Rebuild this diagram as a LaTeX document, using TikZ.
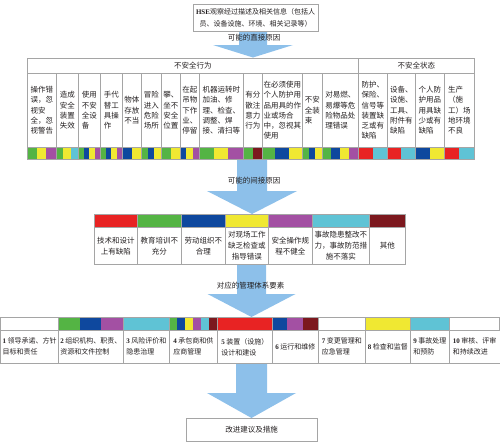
\documentclass[tikz,border=0pt]{standalone}
\usepackage{fontspec}
\setmainfont{Noto Sans CJK SC}
\newfontfamily\lat{Liberation Serif}
\usetikzlibrary{calc}
\definecolor{cgreen}{RGB}{84,180,68}
\definecolor{cyellow}{RGB}{240,232,50}
\definecolor{cpurple}{RGB}{163,80,163}
\definecolor{ccyan}{RGB}{95,195,213}
\definecolor{cblue}{RGB}{14,72,158}
\definecolor{cred}{RGB}{232,35,35}
\definecolor{cdarkred}{RGB}{124,24,30}
\definecolor{arrowblue}{RGB}{141,192,234}
\definecolor{cgrid}{RGB}{165,165,165}
\definecolor{ctext}{RGB}{35,31,32}
\tikzset{
  grid/.style={draw=cgrid, line width=0.6pt},
  cellA/.style={grid, anchor=north west, inner sep=1pt, align=left, minimum height=74pt,
    font=\fontsize{7.5}{10.2}\selectfont, text=ctext},
  cellB/.style={grid, anchor=north west, inner sep=1pt, align=center, minimum height=37pt,
    font=\fontsize{7.5}{11}\selectfont, text=ctext},
  cellC/.style={grid, anchor=north west, inner sep=1pt, align=left, minimum height=33pt,
    font=\fontsize{7}{11}\selectfont, text=ctext},
  hdr/.style={grid, anchor=north west, inner sep=1pt, minimum height=15pt,
    font=\fontsize{7.5}{9}\selectfont, text=ctext},
  lbl/.style={font=\fontsize{7.5}{9}\selectfont, text=ctext, inner sep=0pt},
  boxstyle/.style={draw=cgrid, line width=0.8pt, fill=white, text=ctext, inner sep=1pt},
}
\newcommand\mystrip[5]{%
  \foreach \cc [count=\ii] in {#5} {\xdef\nstrip{\ii}}%
  \foreach \cc [count=\ii] in {#5} {%
    \fill[\cc] ({#1+(\ii-1)*(#2-#1)/\nstrip},#3) rectangle ({#1+\ii*(#2-#1)/\nstrip},#4);
  }%
  \draw[grid] (#1,#3) rectangle (#2,#4);
}
\newcommand\cellA[4]{\node[cellA, minimum width={#3-#2}] (#1) at (#2,73) {#4};}
\newcommand\cellB[4]{\node[cellB, minimum width={#3-#2}] (#1) at (#2,227) {#4};}
\newcommand\cellC[4]{\node[cellC, minimum width={#3-#2}] (#1) at (#2,330) {#4};}
\newcommand\num[1]{{\lat\bfseries #1}}
% start, tip, shaft half width, head half width, head length
\newcommand\blockarrow[5]{%
  \fill[arrowblue] let \p1=(#1), \p2=(#2) in
    (\x2-#3pt,\y1) -- (\x2+#3pt,\y1) -- (\x2+#3pt,\y2+#5pt) -- (\x2+#4pt,\y2+#5pt)
    -- (\x2,\y2) -- (\x2-#4pt,\y2+#5pt) -- (\x2-#3pt,\y2+#5pt) -- cycle;
}
\begin{document}
\begin{tikzpicture}[x=1pt,y=-1pt]
\useasboundingbox (0,0) rectangle (500,442);
% ---------- block arrows ----------
\coordinate (a1s) at (253,31);    \coordinate (a1t) at (253,57.5);
\coordinate (a2s) at (252,159.5); \coordinate (a2t) at (252,214);
\coordinate (a3s) at (251.5,264); \coordinate (a3t) at (251.5,317);
\coordinate (a4s) at (251.5,363); \coordinate (a4t) at (251.5,418);
\blockarrow{a1s}{a1t}{14}{40}{12.5}
\blockarrow{a2s}{a2t}{15}{45}{23}
\blockarrow{a3s}{a3t}{14.5}{44}{23}
\blockarrow{a4s}{a4t}{15.5}{44.5}{25}
% ---------- top box ----------
\node[boxstyle, minimum width=125pt, minimum height=27pt, align=center,
  font=\fontsize{7}{12}\selectfont] (hse) at (255.5,17.5)
  {{\lat\bfseries HSE}观察经过描述及相关信息（包括人\\员、设备设施、环境、相关记录等）};
\node[lbl] (l1) at (254,38) {可能的直接原因};
% ---------- row 1 ----------
\node[hdr, minimum width=331pt] (ua) at (27,58) {不安全行为};
\node[hdr, minimum width=116pt] (us) at (358,58) {不安全状态};
\cellA{b1}{27}{56}{操作错\\误，忽\\视安\\全，忽\\视警告}
\cellA{b2}{56}{78}{造成\\安全\\装置\\失效}
\cellA{b3}{78}{100}{使用\\不安\\全设\\备}
\cellA{b4}{100}{122}{手代\\替工\\具操\\作}
\cellA{b5}{122}{141}{物体\\存放\\不当}
\cellA{b6}{141}{161}{冒险\\进入\\危险\\场所}
\cellA{b7}{161}{180}{攀、\\坐不\\安全\\位置}
\cellA{b8}{180}{199}{在起\\吊物\\下作\\业、\\停留}
\cellA{b9}{199}{243}{机器运转时\\加油、修\\理、检查、\\调整、焊\\接、清扫等}
\cellA{b10}{243}{262}{有分\\散注\\意力\\行为}
\cellA{b11}{262}{302}{在必须使用\\个人防护用\\品用具的作\\业或场合\\中，忽视其\\使用}
\cellA{b12}{302}{322}{不安\\全装\\束}
\cellA{b13}{322}{358}{对易燃、\\易爆等危\\险物品处\\理错误}
\cellA{b14}{358}{387}{防护、\\保险、\\信号等\\装置缺\\乏或有\\缺陷}
\cellA{b15}{387}{415}{设备、\\设施、\\工具、\\附件有\\缺陷}
\cellA{b16}{415}{444}{个人防\\护用品\\用具缺\\少或有\\缺陷}
\cellA{b17}{444}{474}{生产\\（施\\工）场\\地环境\\不良}
\def\ya{147}\def\yb{159.5}
\mystrip{27}{56}{\ya}{\yb}{cgreen,cyellow,cpurple}
\mystrip{56}{78}{\ya}{\yb}{cgreen,cyellow,ccyan}
\mystrip{78}{100}{\ya}{\yb}{cgreen,cblue,cyellow,cpurple}
\mystrip{100}{122}{\ya}{\yb}{cgreen,cblue,cyellow,cpurple}
\mystrip{122}{141}{\ya}{\yb}{cblue,cyellow}
\mystrip{141}{161}{\ya}{\yb}{cgreen,cblue,cyellow}
\mystrip{161}{180}{\ya}{\yb}{cgreen,cyellow}
\mystrip{180}{199}{\ya}{\yb}{cblue,cyellow,cpurple}
\mystrip{199}{243}{\ya}{\yb}{cgreen,cyellow,cpurple}
\mystrip{243}{262}{\ya}{\yb}{cgreen,cdarkred}
\mystrip{262}{302}{\ya}{\yb}{cgreen,cblue,cyellow}
\mystrip{302}{322}{\ya}{\yb}{cgreen,cblue,cyellow}
\mystrip{322}{358}{\ya}{\yb}{cgreen,cblue,cyellow,cpurple}
\mystrip{358}{387}{\ya}{\yb}{cred,ccyan}
\mystrip{387}{415}{\ya}{\yb}{cred,ccyan}
\mystrip{415}{444}{\ya}{\yb}{cblue,cyellow}
\mystrip{444}{474}{\ya}{\yb}{cred,ccyan}
% ---------- row 2 ----------
\node[lbl] (l2) at (254,181) {可能的间接原因};
\def\ya{214}\def\yb{227}
\mystrip{94}{137}{\ya}{\yb}{cred}
\mystrip{137}{181}{\ya}{\yb}{cgreen}
\mystrip{181}{225}{\ya}{\yb}{cblue}
\mystrip{225}{268}{\ya}{\yb}{cyellow}
\mystrip{268}{312}{\ya}{\yb}{cpurple}
\mystrip{312}{369}{\ya}{\yb}{ccyan}
\mystrip{369}{405}{\ya}{\yb}{cdarkred}
\cellB{c1}{94}{137}{技术和设计\\上有缺陷}
\cellB{c2}{137}{181}{教育培训不\\充分}
\cellB{c3}{181}{225}{劳动组织不\\合理}
\cellB{c4}{225}{268}{对现场工作\\缺乏检查或\\指导错误}
\cellB{c5}{268}{312}{安全操作规\\程不健全}
\cellB{c6}{312}{369}{事故隐患整改不\\力，事故防范措\\施不落实}
\cellB{c7}{369}{405}{其他}
% ---------- row 3 ----------
\node[lbl] (l3) at (250.5,286) {对应的管理体系要素};
\def\ya{317}\def\yb{330}
\mystrip{0.5}{58}{\ya}{\yb}{white}
\mystrip{58}{123}{\ya}{\yb}{cgreen,cblue,cpurple}
\mystrip{123}{169}{\ya}{\yb}{ccyan}
\mystrip{169}{217}{\ya}{\yb}{cgreen,cblue,cyellow,cpurple,ccyan,cdarkred}
\mystrip{217}{272}{\ya}{\yb}{cred}
\mystrip{272}{318}{\ya}{\yb}{cblue,cpurple,cdarkred}
\mystrip{318}{365}{\ya}{\yb}{white}
\mystrip{365}{410}{\ya}{\yb}{cyellow}
\mystrip{410}{449}{\ya}{\yb}{ccyan}
\mystrip{449}{499.5}{\ya}{\yb}{white}
\cellC{d1}{0.5}{58}{\num{1} 领导承诺、方针\\目标和责任}
\cellC{d2}{58}{123}{\num{2} 组织机构、职责、\\资源和文件控制}
\cellC{d3}{123}{169}{\num{3} 风险评价和\\隐患治理}
\cellC{d4}{169}{217}{\num{4} 承包商和供\\应商管理}
\cellC{d5}{217}{272}{\num{5} 装置（设施）\\设计和建设}
\cellC{d6}{272}{318}{\num{6} 运行和维修}
\cellC{d7}{318}{365}{\num{7} 变更管理和\\应急管理}
\cellC{d8}{365}{410}{\num{8} 检查和监督}
\cellC{d9}{410}{449}{\num{9} 事故处理\\和预防}
\cellC{d10}{449}{499.5}{\num{10} 审核、评审\\和持续改进}
% ---------- final box ----------
\node[boxstyle, minimum width=131pt, minimum height=23pt,
  font=\fontsize{7.5}{9}\selectfont] (final) at (251.5,429.5) {改进建议及措施};
\end{tikzpicture}
\end{document}
